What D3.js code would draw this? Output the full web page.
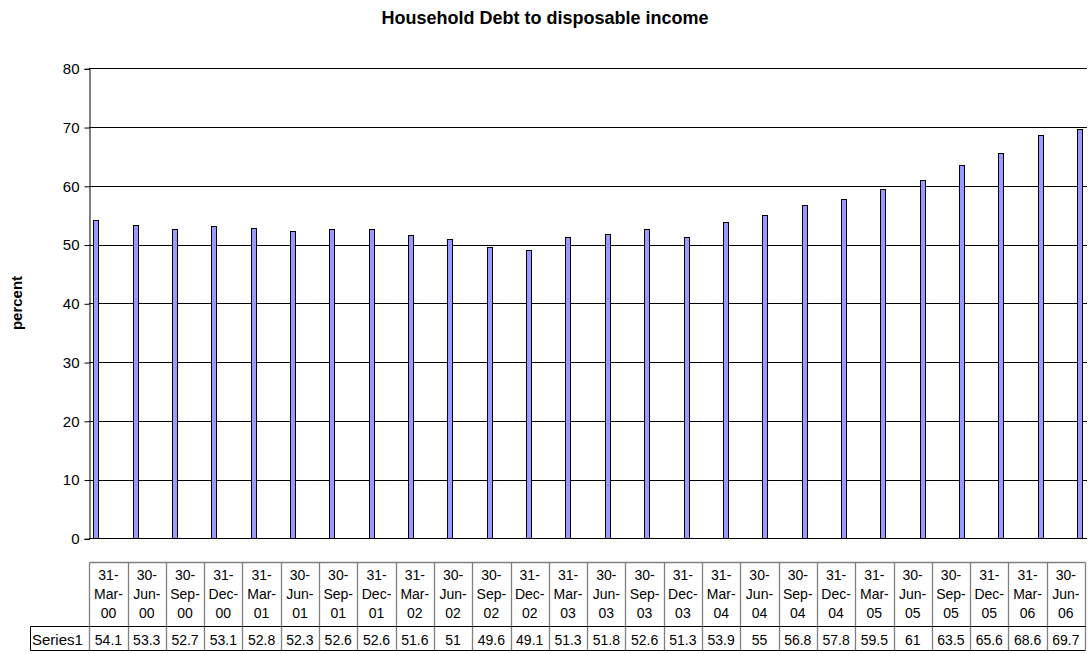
<!DOCTYPE html>
<html><head><meta charset="utf-8">
<script src="https://cdn.jsdelivr.net/npm/d3@7"></script>
<style>html,body{margin:0;padding:0;background:#fff;}svg{display:block;font-family:"Liberation Sans",Arial,sans-serif;}</style>
</head><body><svg id="c" width="1089" height="654"></svg>
<script>
const categories = ["31-Mar-00","30-Jun-00","30-Sep-00","31-Dec-00","31-Mar-01","30-Jun-01","30-Sep-01","31-Dec-01",
"31-Mar-02","30-Jun-02","30-Sep-02","31-Dec-02","31-Mar-03","30-Jun-03","30-Sep-03","31-Dec-03",
"31-Mar-04","30-Jun-04","30-Sep-04","31-Dec-04","31-Mar-05","30-Jun-05","30-Sep-05","31-Dec-05","31-Mar-06","30-Jun-06"];
const values = [54.1,53.3,52.7,53.1,52.8,52.3,52.6,52.6,51.6,51,49.6,49.1,51.3,51.8,52.6,51.3,53.9,55,56.8,57.8,59.5,61,63.5,65.6,68.6,69.7];
const valueLabels = ["54.1","53.3","52.7","53.1","52.8","52.3","52.6","52.6","51.6","51","49.6","49.1","51.3","51.8","52.6","51.3","53.9","55","56.8","57.8","59.5","61","63.5","65.6","68.6","69.7"];
const yTicks = [0,10,20,30,40,50,60,70,80];
const seriesName = "Series1";
const title = "Household Debt to disposable income";
const yTitle = "percent";

const svg = d3.select("#c");
const plotL = 89, plotR = 1087, plotT = 68.3, plotB = 538.3;
const y = d3.scaleLinear().domain([0,80]).range([plotB, plotT]);
const xBar = d3.scalePoint().domain(categories).range([96.3, 1080]);
const xTab = d3.scaleBand().domain(categories).range([89.3, 1085]);

// title
svg.append("text").attr("x", 545).attr("y", 24).attr("text-anchor","middle")
  .attr("font-weight","bold").attr("font-size", 18).text(title);
// y title
svg.append("text").attr("transform","translate(22,303) rotate(-90)").attr("text-anchor","middle")
  .attr("font-weight","bold").attr("font-size", 15).text(yTitle);

// gridlines
svg.append("g").selectAll("line").data(yTicks).join("line")
  .attr("x1", plotL).attr("x2", plotR).attr("y1", d=>Math.round(y(d))+0.5).attr("y2", d=>Math.round(y(d))+0.5)
  .attr("stroke","#000").attr("stroke-width",1);

// bars
svg.append("g").selectAll("rect").data(values).join("rect")
  .attr("x", (d,i)=>Math.round(xBar(categories[i]) - 3)+0.5)
  .attr("y", d=>Math.round(y(d))+0.5)
  .attr("width", 5)
  .attr("height", d=>Math.round(y(0)) - Math.round(y(d)))
  .attr("fill","#9999ff").attr("stroke","#000").attr("stroke-width",1);

// y axis
const yAxis = d3.axisLeft(y).tickValues(yTicks).tickSize(5).tickPadding(5);
const ga = svg.append("g").attr("transform", `translate(${plotL+0.5},0.5)`).call(yAxis);
ga.select(".domain").attr("stroke","#000");
ga.selectAll(".tick line").attr("stroke","#000");
ga.selectAll(".tick text").attr("font-size", 15).attr("fill","#000").attr("font-family","Liberation Sans, Arial, sans-serif");

// data table
const headT = 562.5, headB = 626.5, rowB = 650.5, labL = 30.5;
const tg = svg.append("g");
const bw = xTab.bandwidth();
categories.forEach((c,i)=>{
  const parts = c.split("-");
  const lines = [parts[0]+"-", parts[1]+"-", parts[2]];
  const cx = xTab(c) + bw/2;
  lines.forEach((t,k)=>{
    tg.append("text").attr("x", cx).attr("y", 580 + k*19).attr("text-anchor","middle")
      .attr("font-size", 14).text(t);
  });
  tg.append("text").attr("x", cx).attr("y", 645).attr("text-anchor","middle")
    .attr("font-size", 14).text(valueLabels[i]);
});
tg.append("text").attr("x", 32).attr("y", 645).attr("font-size", 15).text(seriesName);
const edges = categories.map(c=>xTab(c)).concat([xTab.range()[1]]);
tg.selectAll("line.v").data(edges).join("line").attr("class","v")
  .attr("x1", d=>Math.round(d)+0.5).attr("x2", d=>Math.round(d)+0.5)
  .attr("y1", headT).attr("y2", rowB).attr("stroke","#808080").attr("stroke-width",1.3);
tg.append("line").attr("x1", 89.5).attr("x2", 1085.5).attr("y1", headT).attr("y2", headT).attr("stroke","#808080").attr("stroke-width",1.3);
tg.append("line").attr("x1", labL).attr("x2", 1085.5).attr("y1", headB).attr("y2", headB).attr("stroke","#000");
tg.append("line").attr("x1", labL).attr("x2", 1085.5).attr("y1", rowB).attr("y2", rowB).attr("stroke","#000");
tg.append("line").attr("x1", labL).attr("x2", labL).attr("y1", headB).attr("y2", rowB).attr("stroke","#000");
</script></body></html>
